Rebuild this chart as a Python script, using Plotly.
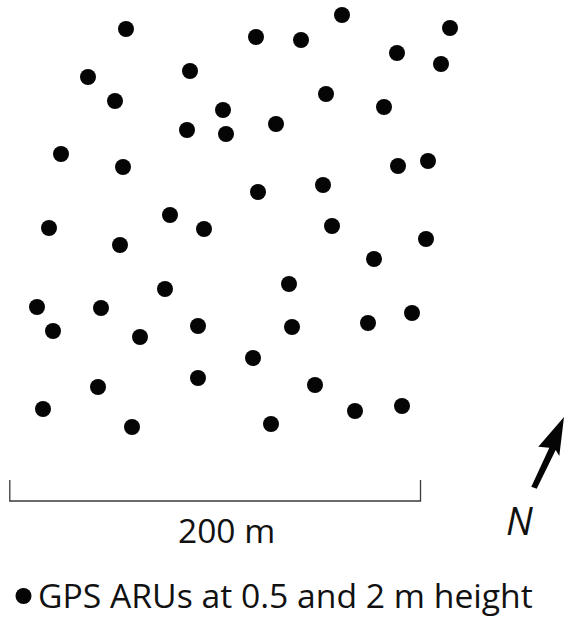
import plotly.graph_objects as go

# ARU positions, in the map's own units (0-565 east, 0-617 south)
aru_x = [126,256,301,342,450,397,441,88,190,115,223,326,384,187,226,276,61,123,398,428,258,323,
         49,120,170,204,332,426,374,37,53,101,165,289,140,198,292,368,412,253,98,198,315,43,132,271,355,402]
aru_y = [29,37,40,15,28,53,64,77,71,101,110,94,107,130,134,124,154,167,166,161,192,185,
         228,245,215,229,226,239,259,307,331,308,289,284,337,326,327,323,313,358,387,378,385,409,427,424,411,406]
scale_x = [9.8, 9.8, 420.5, 420.5]
scale_y = [480, 501, 501, 480]
legend_marker_x = [23.5]
legend_marker_y = [596]

FONT = "Open Sans"
INK = "#050505"

fig = go.Figure()
fig.add_trace(go.Scatter(x=aru_x, y=aru_y, mode="markers",
                         marker=dict(size=16, color=INK), hoverinfo="skip"))
fig.add_trace(go.Scatter(x=scale_x, y=scale_y, mode="lines",
                         line=dict(color="#3a3a3a", width=1.3), hoverinfo="skip"))
fig.add_trace(go.Scatter(x=legend_marker_x, y=legend_marker_y, mode="markers",
                         marker=dict(size=16, color=INK), hoverinfo="skip"))

fig.add_annotation(x=226, y=530, text="200 m", showarrow=False,
                   font=dict(family=FONT, size=33.5, color="#111111"))
fig.add_annotation(x=36, y=595, text="GPS ARUs at 0.5 and 2 m height", showarrow=False,
                   xanchor="left", font=dict(family=FONT, size=33.7, color="#111111"))
fig.add_annotation(x=519, y=520, text="<i>N</i>", showarrow=False,
                   font=dict(family=FONT, size=38, color="#111111"))

# North arrow outline, notched head
fig.add_shape(type="path", xref="x", yref="y", fillcolor=INK, line=dict(width=0),
              path="M564,417 L559.3,456 L555.7,450 L536.7,488.7 L531.3,486.7 L549.3,447.7 L538.3,446.7 Z")

fig.update_xaxes(range=[0, 565], visible=False, fixedrange=True)
fig.update_yaxes(range=[617, 0], visible=False, fixedrange=True)
fig.update_layout(width=565, height=617, margin=dict(l=0, r=0, t=0, b=0),
                  paper_bgcolor="white", plot_bgcolor="white", showlegend=False)
fig.write_html("out.html", config={"displayModeBar": False},
               post_script="document.body.style.margin='0';document.body.style.overflow='hidden';")
